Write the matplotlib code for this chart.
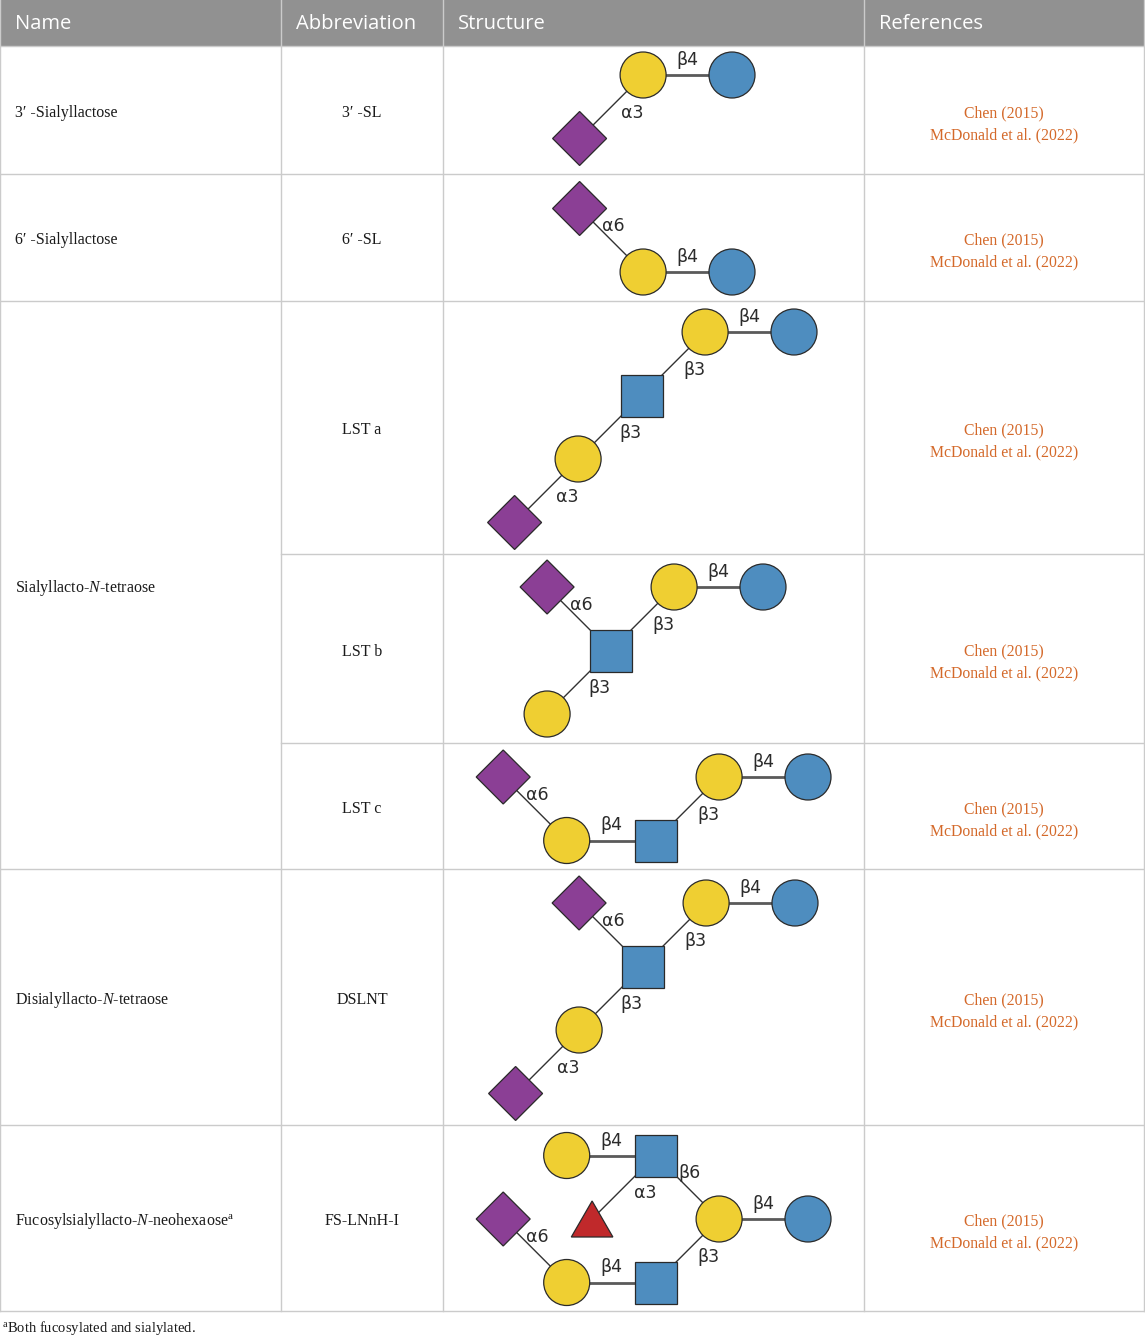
"""
Sialylated human milk oligosaccharides: names, abbreviations, SNFG structures, references.
"""

import matplotlib

matplotlib.use("Agg")
import matplotlib.pyplot as plt
import numpy as np
from matplotlib.patches import Circle, Rectangle, RegularPolygon

plt.rcParams["mathtext.fontset"] = "custom"
plt.rcParams["mathtext.rm"] = "Liberation Serif"
plt.rcParams["mathtext.it"] = "Liberation Serif:italic"

# ---- table content ----
HEADERS = ["Name", "Abbreviation", "Structure", "References"]
NAMES = [
    "3′ -Sialyllactose",
    "6′ -Sialyllactose",
    "Sialyllacto-$N$-tetraose",
    "Disialyllacto-$N$-tetraose",
    "Fucosylsialyllacto-$N$-neohexaose$^{\\mathrm{a}}$",
]
NAME_SPANS = [(0, 1), (1, 2), (2, 5), (5, 6), (6, 7)]  # row ranges covered by each name
ABBREVS = ["3′ -SL", "6′ -SL", "LST a", "LST b", "LST c", "DSLNT", "FS-LNnH-I"]
REFS = ["Chen (2015)", "McDonald et al. (2022)"]
FOOTNOTE = "$^{\\mathrm{a}}$Both fucosylated and sialylated."

# ---- glycan structures: (residue, x step, y step) from reducing-end Glc; links (child, parent, linkage) ----
SL3_NODES = [("Glc", 0, 0), ("Gal", -1.4, 0), ("Neu5Ac", -2.4, 1)]
SL3_LINKS = [(1, 0, "β4"), (2, 1, "α3")]

SL6_NODES = [("Glc", 0, 0), ("Gal", -1.4, 0), ("Neu5Ac", -2.4, -1)]
SL6_LINKS = [(1, 0, "β4"), (2, 1, "α6")]

LSTA_NODES = [("Glc", 0, 0), ("Gal", -1.4, 0), ("GlcNAc", -2.4, 1), ("Gal", -3.4, 2), ("Neu5Ac", -4.4, 3)]
LSTA_LINKS = [(1, 0, "β4"), (2, 1, "β3"), (3, 2, "β3"), (4, 3, "α3")]

LSTB_NODES = [("Glc", 0, 0), ("Gal", -1.4, 0), ("GlcNAc", -2.4, 1), ("Gal", -3.4, 2), ("Neu5Ac", -3.4, 0)]
LSTB_LINKS = [(1, 0, "β4"), (2, 1, "β3"), (3, 2, "β3"), (4, 2, "α6")]

LSTC_NODES = [("Glc", 0, 0), ("Gal", -1.4, 0), ("GlcNAc", -2.4, 1), ("Gal", -3.8, 1), ("Neu5Ac", -4.8, 0)]
LSTC_LINKS = [(1, 0, "β4"), (2, 1, "β3"), (3, 2, "β4"), (4, 3, "α6")]

DSLNT_NODES = [("Glc", 0, 0), ("Gal", -1.4, 0), ("GlcNAc", -2.4, 1), ("Gal", -3.4, 2),
               ("Neu5Ac", -4.4, 3), ("Neu5Ac", -3.4, 0)]
DSLNT_LINKS = [(1, 0, "β4"), (2, 1, "β3"), (3, 2, "β3"), (4, 3, "α3"), (5, 2, "α6")]

FSLNNH_NODES = [("Glc", 0, 0), ("Gal", -1.4, 0), ("GlcNAc", -2.4, -1), ("GlcNAc", -2.4, 1),
                ("Gal", -3.8, -1), ("Gal", -3.8, 1), ("Fuc", -3.4, 0), ("Neu5Ac", -4.8, 0)]
FSLNNH_LINKS = [(1, 0, "β4"), (2, 1, "β6"), (3, 1, "β3"), (4, 2, "β4"), (5, 3, "β4"),
                (6, 2, "α3"), (7, 5, "α6")]

GLYCANS = [
    (SL3_NODES, SL3_LINKS),
    (SL6_NODES, SL6_LINKS),
    (LSTA_NODES, LSTA_LINKS),
    (LSTB_NODES, LSTB_LINKS),
    (LSTC_NODES, LSTC_LINKS),
    (DSLNT_NODES, DSLNT_LINKS),
    (FSLNNH_NODES, FSLNNH_LINKS),
]

# ---- layout (pixels) ----
W, H = 1145, 1338
COL_EDGES = [0, 281, 443, 864, 1144]
ROW_EDGES = [46, 174, 301, 554, 743, 869, 1125, 1311]
ANCHORS = [(732, 75), (732, 272), (794, 332), (763, 587), (808, 777), (795, 903), (808, 1219)]
STEP = 63.5

COLORS = {"Glc": "#4e8dbf", "Gal": "#efcf32", "GlcNAc": "#4e8dbf",
          "Neu5Ac": "#8b3f95", "Fuc": "#c0292b"}
GRID = "#cbcbcb"
HEADER_BG = "#919191"
REF_COLOR = "#d4692a"
EDGE = "#2a2a2a"


def draw_residue(ax, kind, x, y):
    fc = COLORS[kind]
    if kind in ("Glc", "Gal"):
        p = Circle((x, y), 23, fc=fc, ec=EDGE, lw=0.9, zorder=3)
    elif kind == "GlcNAc":
        p = Rectangle((x - 21, y - 21), 42, 42, fc=fc, ec=EDGE, lw=0.9, zorder=3)
    elif kind == "Neu5Ac":
        p = RegularPolygon((x, y), 4, radius=27, orientation=0, fc=fc, ec=EDGE, lw=0.9, zorder=3)
    else:
        p = RegularPolygon((x, y + 6), 3, radius=24, orientation=np.pi, fc=fc, ec=EDGE, lw=0.9, zorder=3)
    ax.add_patch(p)


def draw_glycan(ax, nodes, links, x0, y0):
    pos = [(x0 + gx * STEP, y0 + gy * STEP) for _, gx, gy in nodes]
    for a, b, label in links:
        (xa, ya), (xb, yb) = pos[a], pos[b]
        if abs(ya - yb) < 1:
            ax.plot([xa, xb], [ya, yb], color="#5a5a5a", lw=2.0, zorder=1, solid_capstyle="butt")
            dx, dy = 0, -15
        else:
            ax.plot([xa, xb], [ya, yb], color="#333333", lw=1.0, zorder=1)
            left, right = sorted([(xa, ya), (xb, yb)])
            dx, dy = (21, 6) if left[1] > right[1] else (2, -14)
        mx, my = (xa + xb) / 2, (ya + yb) / 2
        ax.text(mx + dx, my + dy, label, ha="center", va="center", fontsize=12.5,
                family="DejaVu Sans", color="#2b2b2b", zorder=4)
    for (kind, _, _), (x, y) in zip(nodes, pos):
        draw_residue(ax, kind, x, y)


def main() -> None:
    fig = plt.figure(figsize=(W / 100, H / 100), dpi=100)
    ax = fig.add_axes([0, 0, 1, 1])
    ax.set_xlim(0, W)
    ax.set_ylim(H, 0)
    ax.axis("off")

    # header
    ax.add_patch(Rectangle((0, 0), COL_EDGES[-1], ROW_EDGES[0], fc=HEADER_BG, ec="none", zorder=0))
    for i, h in enumerate(HEADERS):
        ax.text(COL_EDGES[i] + 15, 24, h, ha="left", va="center", fontsize=14.5,
                family="Open Sans", color="white")

    # grid lines
    top, bottom = 0, ROW_EDGES[-1]
    for x in COL_EDGES:
        ax.plot([x, x], [top, bottom], color=GRID, lw=1.0, zorder=0.5)
    name_bounds = {ROW_EDGES[s] for s, _ in NAME_SPANS} | {ROW_EDGES[-1]}
    for y in ROW_EDGES:
        x_start = COL_EDGES[0] if y in name_bounds else COL_EDGES[1]
        ax.plot([x_start, COL_EDGES[-1]], [y, y], color=GRID, lw=1.0, zorder=0.5)

    # names
    for name, (s, e) in zip(NAMES, NAME_SPANS):
        yc = (ROW_EDGES[s] + ROW_EDGES[e]) / 2 + 3
        ax.text(15, yc, name, ha="left", va="center", fontsize=11.5, family="Liberation Serif", color="#1a1a1a")

    # abbreviations, references, structures
    for i, abbr in enumerate(ABBREVS):
        yc = (ROW_EDGES[i] + ROW_EDGES[i + 1]) / 2 + 3
        ax.text((COL_EDGES[1] + COL_EDGES[2]) / 2, yc, abbr, ha="center", va="center",
                fontsize=11.5, family="Liberation Serif", color="#1a1a1a")
        xr = (COL_EDGES[3] + COL_EDGES[4]) / 2
        for k, ref in enumerate(REFS):
            ax.text(xr, yc + 22 * k, ref, ha="center", va="center", fontsize=11.3,
                    family="Liberation Serif", color=REF_COLOR)
        nodes, links = GLYCANS[i]
        draw_glycan(ax, nodes, links, *ANCHORS[i])

    ax.text(2, 1328, FOOTNOTE, ha="left", va="center", fontsize=10.5, family="Liberation Serif", color="#1a1a1a")

    fig.savefig("out.png", dpi=100)
    plt.close(fig)


if __name__ == "__main__":
    main()
